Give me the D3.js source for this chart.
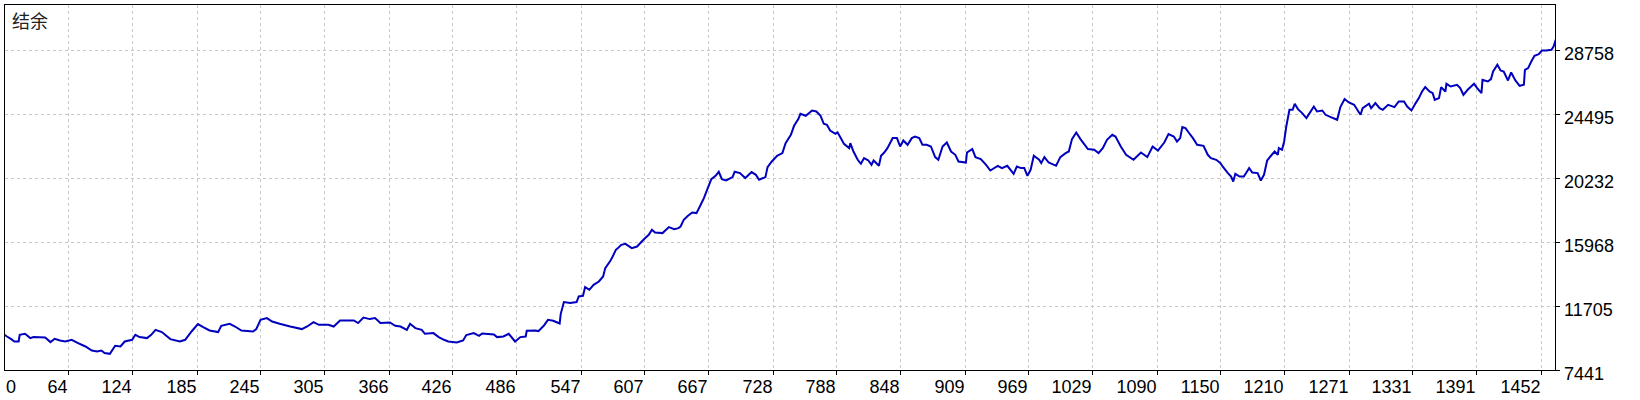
<!DOCTYPE html>
<html>
<head>
<meta charset="utf-8">
<script src="https://cdn.jsdelivr.net/npm/d3@7"></script>
<style>
html,body{margin:0;padding:0;background:#fff;}
svg{display:block;}
</style>
</head>
<body>
<div id="chart"></div>
<script>
// ---- data ----
const chartTitle = "结余";
const xTickLabels = [0,64,124,185,245,305,366,426,486,547,607,667,728,788,848,909,969,1029,1090,1150,1210,1271,1331,1391,1452];
const yTickValues = [7441,11705,15968,20232,24495,28758];
const lastIndex = 1466;
// [trade index, balance]
const balancePoints = [
[0,10000],[6,9706],[10,9533],[13,9373],[17,9373],[18,9819],[23,9886],[28,9599],[31,9666],[42,9639],
[47,9333],[51,9553],[56,9439],[61,9373],[67,9486],[73,9266],[80,9040],[86,8773],[91,8707],[95,8773],
[98,8600],[103,8553],[108,9086],[113,9040],[117,9373],[124,9486],[127,9819],[131,9666],[138,9599],[142,9819],
[146,10152],[152,9999],[160,9533],[169,9373],[174,9486],[180,10039],[186,10532],[191,10332],[197,10106],[205,9999],
[208,10419],[216,10552],[221,10372],[227,10106],[238,10039],[241,10199],[245,10818],[251,10932],[256,10705],[263,10552],
[273,10372],[284,10199],[289,10372],[295,10665],[300,10485],[309,10485],[314,10372],[320,10772],[333,10772],[337,10599],
[342,10972],[348,10865],[353,10932],[358,10599],[367,10639],[372,10419],[377,10372],[383,10152],[386,10552],[391,10266],
[397,10152],[400,9886],[408,9932],[413,9666],[418,9486],[422,9373],[430,9306],[436,9439],[439,9799],[446,9932],
[451,9753],[454,9906],[465,9839],[468,9666],[474,9706],[479,9886],[485,9373],[490,9666],[495,9706],[496,10086],
[504,10106],[507,10066],[512,10419],[516,10818],[521,10752],[527,10572],[528,11198],[531,11998],[537,11931],[543,11998],
[545,12371],[549,12417],[551,12997],[555,12817],[559,13150],[564,13370],[568,13703],[570,14262],[575,14769],[577,15035],
[580,15482],[582,15595],[585,15814],[589,15881],[595,15595],[600,15701],[606,16148],[611,16481],[614,16814],[617,16634],
[624,16594],[630,16994],[635,16860],[639,16927],[641,17034],[644,17480],[648,17746],[652,17966],[656,17926],[660,18479],
[663,18926],[666,19479],[670,20191],[674,20411],[677,20678],[680,20191],[684,20098],[690,20325],[692,20678],[697,20591],
[702,20258],[708,20658],[712,20478],[715,20145],[721,20325],[723,20991],[727,21364],[732,21743],[737,21923],[740,22590],
[745,23142],[748,23742],[752,24188],[754,24541],[759,24408],[765,24761],[769,24695],[773,24408],[776,23875],[779,23809],
[782,23429],[787,23209],[789,23296],[792,22923],[795,22543],[800,22256],[801,22590],[804,22030],[808,21477],[811,21210],
[814,21590],[818,21430],[821,21144],[823,21430],[828,21077],[830,21743],[833,21963],[836,22256],[841,22923],[845,22923],
[848,22363],[851,22763],[855,22476],[859,22923],[862,23029],[866,22923],[869,22476],[873,22476],[877,22363],[881,21657],
[884,21477],[888,22363],[892,22629],[896,22030],[900,21810],[903,21364],[910,21297],[911,21963],[916,22190],[919,21657],
[924,21524],[929,21144],[933,20764],[940,21077],[944,20924],[949,21077],[955,20544],[958,21031],[962,20924],[965,20924],
[968,20411],[971,20811],[974,21743],[979,21477],[981,21257],[984,21657],[988,21297],[995,21077],[999,21657],[1004,21923],
[1007,22030],[1010,22856],[1014,23296],[1018,22856],[1025,22190],[1031,22143],[1035,21923],[1039,22256],[1043,22809],[1048,23142],
[1051,23029],[1056,22363],[1061,21810],[1068,21477],[1075,21963],[1081,21657],[1086,22363],[1091,22096],[1097,22629],[1101,23189],
[1106,23029],[1109,22696],[1112,22923],[1114,23655],[1117,23589],[1120,23296],[1124,22923],[1128,22476],[1134,22409],[1138,21810],
[1141,21590],[1146,21477],[1150,21257],[1152,21031],[1157,20591],[1160,20364],[1162,20031],[1164,20544],[1168,20364],[1172,20364],
[1175,20698],[1177,20924],[1180,20631],[1185,20591],[1188,20098],[1191,20478],[1194,21430],[1197,21697],[1201,22030],[1204,21810],
[1205,22256],[1208,22143],[1210,22696],[1212,23695],[1215,24808],[1218,24808],[1220,25208],[1223,24854],[1227,24588],[1231,24255],
[1234,24588],[1238,25028],[1241,24695],[1246,24761],[1249,24475],[1254,24322],[1260,24142],[1263,24988],[1267,25521],[1271,25294],
[1276,25141],[1280,24695],[1282,24475],[1284,24921],[1290,25208],[1292,24921],[1296,25254],[1300,24921],[1303,24808],[1308,25141],
[1314,24988],[1318,25361],[1323,25361],[1326,25028],[1330,24761],[1334,25254],[1337,25587],[1340,26027],[1343,26320],[1347,26027],
[1350,25920],[1352,25474],[1356,25587],[1358,26320],[1362,26027],[1363,26540],[1367,26360],[1373,26473],[1376,26253],[1379,25807],
[1383,26140],[1389,26540],[1392,26253],[1396,25920],[1397,26806],[1402,26693],[1405,26853],[1407,27359],[1411,27805],[1414,27426],
[1417,27359],[1421,26760],[1424,27293],[1428,26760],[1432,26407],[1436,26473],[1437,27472],[1440,27586],[1443,28025],[1446,28405],
[1450,28518],[1453,28758],[1457,28758],[1462,28805],[1464,29025],[1466,29471]
];

// ---- layout ----
const W = 1640, H = 400;
const pL = 4.5, pR = 1555.5, pT = 4.5, pB = 370.5;

const svg = d3.select("#chart").append("svg").attr("width", W).attr("height", H);

const x = d3.scaleLinear().domain([0, lastIndex]).range([0.611, 0.611 + lastIndex * 1.06077]);
const y = d3.scaleLinear().domain([yTickValues[0], yTickValues[yTickValues.length - 1]]).range([370.5, 50.5]);
const snap = v => Math.floor(v) + 0.5;
const snapY = v => Math.round(v - 0.5) + 0.5;

// grid
const grid = svg.append("g").attr("stroke", "#c8c8c8").attr("stroke-width", 1).attr("stroke-dasharray", "3,3").attr("shape-rendering", "crispEdges");
grid.selectAll("line.v").data(xTickLabels.filter(d => d > 0)).enter().append("line")
  .attr("x1", d => snap(x(d) + 0.354)).attr("x2", d => snap(x(d) + 0.354))
  .attr("y1", pT).attr("y2", pB);
grid.selectAll("line.h").data(yTickValues.slice(1)).enter().append("line")
  .attr("y1", d => snapY(y(d))).attr("y2", d => snapY(y(d)))
  .attr("x1", pL).attr("x2", pR);

// clip
svg.append("clipPath").attr("id", "clip").append("rect")
  .attr("x", pL + 0.5).attr("y", pT + 0.5).attr("width", pR - pL - 1).attr("height", pB - pT - 1);

// balance line
const line = d3.line().x(d => x(d[0])).y(d => y(d[1])).curve(d3.curveLinear);
svg.append("path").datum(balancePoints)
  .attr("clip-path", "url(#clip)")
  .attr("fill", "none").attr("stroke", "#0000be").attr("stroke-width", 2)
  .attr("stroke-linejoin", "miter").attr("stroke-miterlimit", 2)
  .attr("d", line);

// frame
svg.append("rect").attr("x", pL).attr("y", pT).attr("width", pR - pL).attr("height", pB - pT)
  .attr("fill", "none").attr("stroke", "#000").attr("stroke-width", 1).attr("shape-rendering", "crispEdges");

// x ticks
const xt = svg.append("g");
xt.selectAll("line").data(xTickLabels.filter(d => d > 0)).enter().append("line")
  .attr("x1", d => snap(x(d) + 0.354)).attr("x2", d => snap(x(d) + 0.354))
  .attr("y1", pB).attr("y2", pB + 4)
  .attr("stroke", "#000").attr("shape-rendering", "crispEdges");
xt.selectAll("text").data(xTickLabels).enter().append("text")
  .attr("x", d => d === 0 ? 6 : snap(x(d) + 0.354) - 1)
  .attr("y", 393)
  .attr("text-anchor", d => d === 0 ? "start" : "end")
  .attr("font-family", "'Liberation Sans', Arial, sans-serif")
  .attr("font-size", 18).attr("fill", "#000")
  .text(d => d);

// y ticks (right)
const yt = svg.append("g");
yt.selectAll("line").data(yTickValues).enter().append("line")
  .attr("x1", pR).attr("x2", pR + 4)
  .attr("y1", d => snapY(y(d))).attr("y2", d => snapY(y(d)))
  .attr("stroke", "#000").attr("shape-rendering", "crispEdges");
yt.selectAll("text").data(yTickValues).enter().append("text")
  .attr("x", 1564)
  .attr("y", d => snapY(y(d)) + 9)
  .attr("font-family", "'Liberation Sans', Arial, sans-serif")
  .attr("font-size", 18).attr("fill", "#000")
  .text(d => d);

// title
svg.append("text").attr("x", 12).attr("y", 28)
  .attr("font-family", "'Noto Sans CJK SC', sans-serif")
  .attr("font-size", 18).attr("fill", "#222")
  .text(chartTitle);
</script>
</body>
</html>
